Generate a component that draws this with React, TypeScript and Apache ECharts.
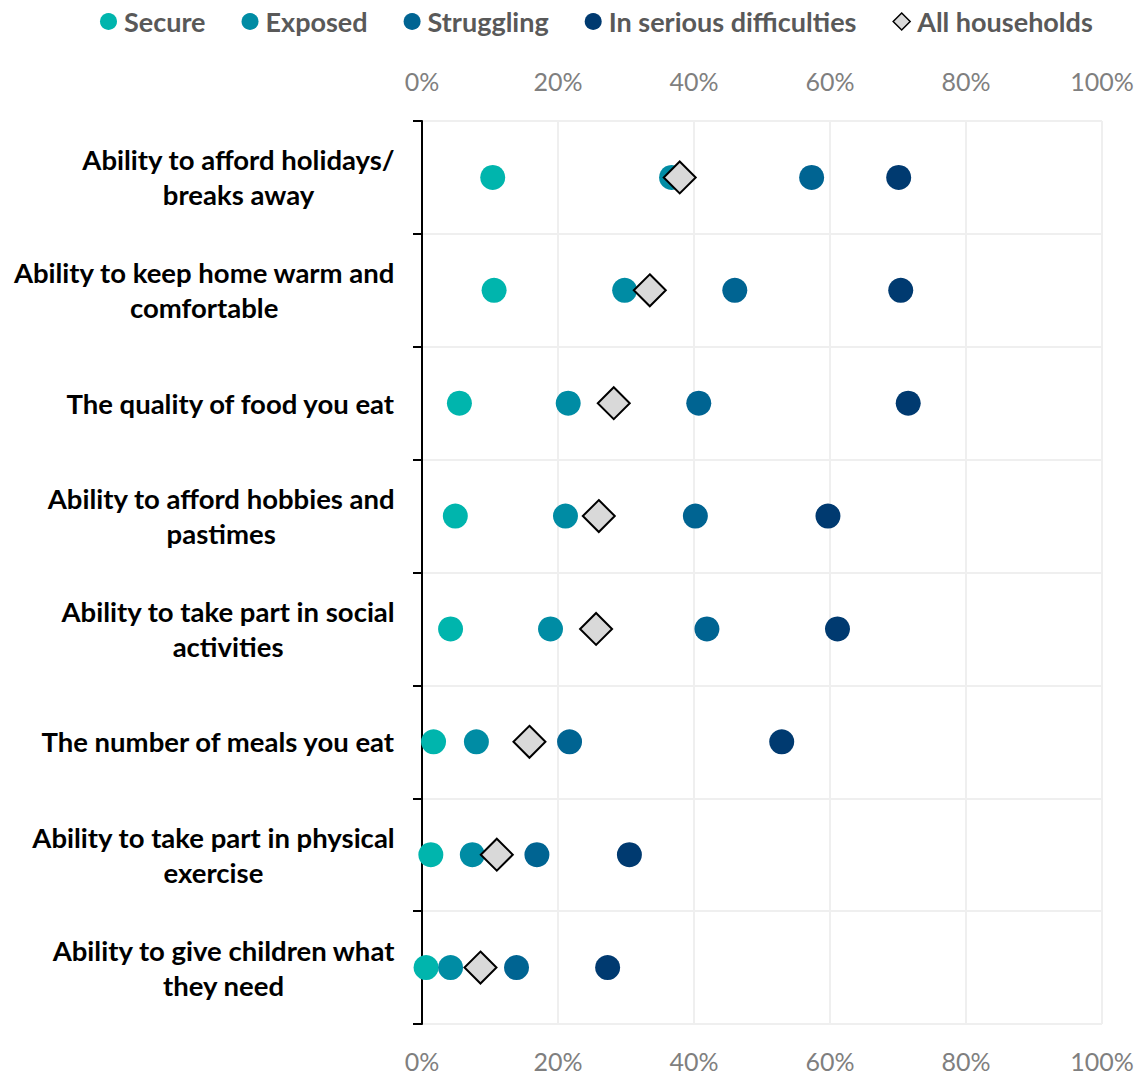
import React, { useEffect, useRef } from "react";
import * as echarts from "echarts";

const categories = [
  "Ability to afford holidays/\nbreaks away",
  "Ability to keep home warm and\ncomfortable",
  "The quality of food you eat",
  "Ability to afford hobbies and\npastimes",
  "Ability to take part in social\nactivities",
  "The number of meals you eat",
  "Ability to take part in physical\nexercise",
  "Ability to give children what\nthey need",
];

const seriesNames = ["Secure", "Exposed", "Struggling", "In serious difficulties", "All households"];

const secure = [10.4, 10.6, 5.5, 4.9, 4.2, 1.7, 1.3, 0.6];
const exposed = [36.7, 29.8, 21.5, 21.1, 18.9, 8.0, 7.4, 4.2];
const struggling = [57.3, 46.0, 40.7, 40.2, 41.9, 21.7, 16.9, 13.9];
const serious = [70.1, 70.4, 71.5, 59.7, 61.1, 52.9, 30.5, 27.3];
const allHouseholds = [37.9, 33.5, 28.2, 26.0, 25.6, 15.8, 11.0, 8.6];

const xTicks = [0, 20, 40, 60, 80, 100];

const colors = ["#00B5AD", "#008CA4", "#006492", "#003A70"];

const FONT = "Lato, 'Open Sans', sans-serif";

export default function App() {
  const ref = useRef<HTMLDivElement>(null);

  useEffect(() => {
    if (!ref.current) return;
    const chart = echarts.init(ref.current, undefined, { renderer: "svg" });

    const circleSeries = [secure, exposed, struggling, serious].map((vals, i) => ({
      name: seriesNames[i],
      type: "scatter",
      symbol: "circle",
      symbolSize: 25,
      itemStyle: { color: colors[i], opacity: 1 },
      data: vals.map((v, j) => [v, j]),
      z: 2 + i,
    }));

    const xAxisCommon = {
      type: "value",
      min: xTicks[0],
      max: xTicks[xTicks.length - 1],
      interval: 20,
      axisLine: { show: false },
      axisTick: { show: false },
      axisLabel: {
        formatter: "{value}%",
        color: "#7F7F7F",
        fontSize: 25,
        fontFamily: FONT,
      },
    };

    chart.setOption({
      animation: false,
      backgroundColor: "#ffffff",
      textStyle: { fontFamily: FONT },
      legend: {
        top: 3,
        left: 95,
        itemWidth: 17,
        itemHeight: 17,
        itemGap: 36,
        textStyle: { fontSize: 27, fontWeight: "bold", color: "#595959", fontFamily: FONT, padding: [0, 0, 0, 2] },
        data: [
          { name: "Secure", icon: "circle" },
          { name: "Exposed", icon: "circle" },
          { name: "Struggling", icon: "circle" },
          { name: "In serious difficulties", icon: "circle" },
          { name: "All households", icon: "diamond", itemStyle: { borderWidth: 1.5 } },
        ],
      },
      grid: { left: 422, right: 39, top: 121, bottom: 51, containLabel: false },
      xAxis: [
        {
          ...xAxisCommon,
          position: "top",
          axisLabel: { ...xAxisCommon.axisLabel, margin: 28 },
          splitLine: { show: true, lineStyle: { color: "#EFEFEF", width: 2 } },
        },
        {
          ...xAxisCommon,
          position: "bottom",
          axisLabel: { ...xAxisCommon.axisLabel, margin: 24 },
          splitLine: { show: false },
        },
      ],
      yAxis: {
        type: "category",
        inverse: true,
        data: categories,
        axisLine: { show: true, lineStyle: { color: "#000000", width: 2 } },
        axisTick: { show: true, length: 9, lineStyle: { color: "#000000", width: 2 } },
        splitLine: { show: true, lineStyle: { color: "#EFEFEF", width: 2 } },
        axisLabel: {
          margin: 27,
          align: "right",
          formatter: (val: string) =>
            val
              .split("\n")
              .map((l) => "{c|" + l + "}")
              .join("\n"),
          rich: {
            c: {
              align: "center",
              fontSize: 27.5,
              fontWeight: "bold",
              color: "#000000",
              fontFamily: FONT,
              lineHeight: 35,
            },
          },
        },
      },
      series: [
        ...circleSeries,
        {
          name: "All households",
          type: "scatter",
          symbol: "diamond",
          symbolSize: [32, 32],
          itemStyle: { color: "#D9D9D9", borderColor: "#000000", borderWidth: 2, opacity: 1 },
          data: allHouseholds.map((v, j) => [v, j]),
          z: 10,
        },
      ],
    });

    return () => chart.dispose();
  }, []);

  return (
    <div
      ref={ref}
      style={{ position: "fixed", left: 0, top: 0, width: 1141, height: 1075 }}
    />
  );
}
